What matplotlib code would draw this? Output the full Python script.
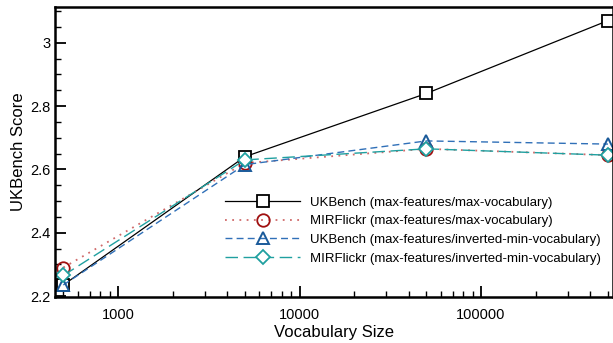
import matplotlib
matplotlib.use('Agg')
import matplotlib.pyplot as plt
from matplotlib.ticker import MultipleLocator, FormatStrFormatter, LogLocator, NullFormatter

vocab_sizes = [500, 5000, 50000, 500000]
ukbench_max = [2.235, 2.640, 2.840, 3.070]
mirflickr_max = [2.290, 2.620, 2.665, 2.645]
ukbench_inv = [2.235, 2.615, 2.690, 2.680]
mirflickr_inv = [2.265, 2.630, 2.665, 2.645]

labels = ['UKBench (max-features/max-vocabulary)',
          'MIRFlickr (max-features/max-vocabulary)',
          'UKBench (max-features/inverted-min-vocabulary)',
          'MIRFlickr (max-features/inverted-min-vocabulary)']

plt.rcParams['font.family'] = ['Liberation Sans', 'DejaVu Sans']

fig = plt.figure(figsize=(6.13, 3.43), dpi=100)
ax = fig.add_axes([55 / 613, 46 / 343, 1 - 55 / 613, 290 / 343])

ax.plot(vocab_sizes, ukbench_max, color='black', lw=0.9, ls='-',
        marker='s', ms=8, mfc='white', mec='black', mew=1.3, label=labels[0])
ax.plot(vocab_sizes, mirflickr_max, color='#d06a6a', lw=1.3, ls=(0, (1, 3)),
        marker='o', ms=9, mfc='none', mec='#a01010', mew=1.3, label=labels[1])
ax.plot(vocab_sizes, ukbench_inv, color='#3070b8', lw=1.0, ls=(0, (5, 3)),
        marker='^', ms=9, mfc='none', mec='#1a5a9a', mew=1.4, label=labels[2])
ax.plot(vocab_sizes, mirflickr_inv, color='#20a0a0', lw=1.0, ls=(0, (9, 4)),
        marker='D', ms=7, mfc='white', mec='#20a0a0', mew=1.3, label=labels[3])

ax.set_xscale('log')
ax.set_xlim(450, 533000)
ax.set_ylim(2.197, 3.113)

ax.yaxis.set_major_locator(MultipleLocator(0.2))
ax.yaxis.set_minor_locator(MultipleLocator(0.05))
ax.yaxis.set_major_formatter(FormatStrFormatter('%g'))
ax.xaxis.set_major_locator(LogLocator(base=10))
ax.xaxis.set_minor_locator(LogLocator(base=10, subs=range(2, 10)))
ax.xaxis.set_minor_formatter(NullFormatter())
ax.xaxis.set_major_formatter(plt.FuncFormatter(lambda v, p: '%d' % v))

ax.tick_params(which='both', direction='in', labelsize=10.5)
ax.tick_params(which='major', length=8, width=1.3)
ax.tick_params(which='minor', length=4, width=1.0)
ax.tick_params(axis='x', which='major', pad=8)
for s in ['left', 'bottom', 'top', 'right']:
    ax.spines[s].set_linewidth(1.8)

ax.set_xlabel('Vocabulary Size', fontsize=12, labelpad=2)
ax.set_ylabel('UKBench Score', fontsize=12, labelpad=3)

ax.legend(loc='upper left', bbox_to_anchor=(0.305, 0.346), frameon=False,
          fontsize=9.5, handlelength=5.7, handletextpad=0.75, labelspacing=0.48,
          borderaxespad=0, borderpad=0)

fig.savefig('out.png', dpi=100)
